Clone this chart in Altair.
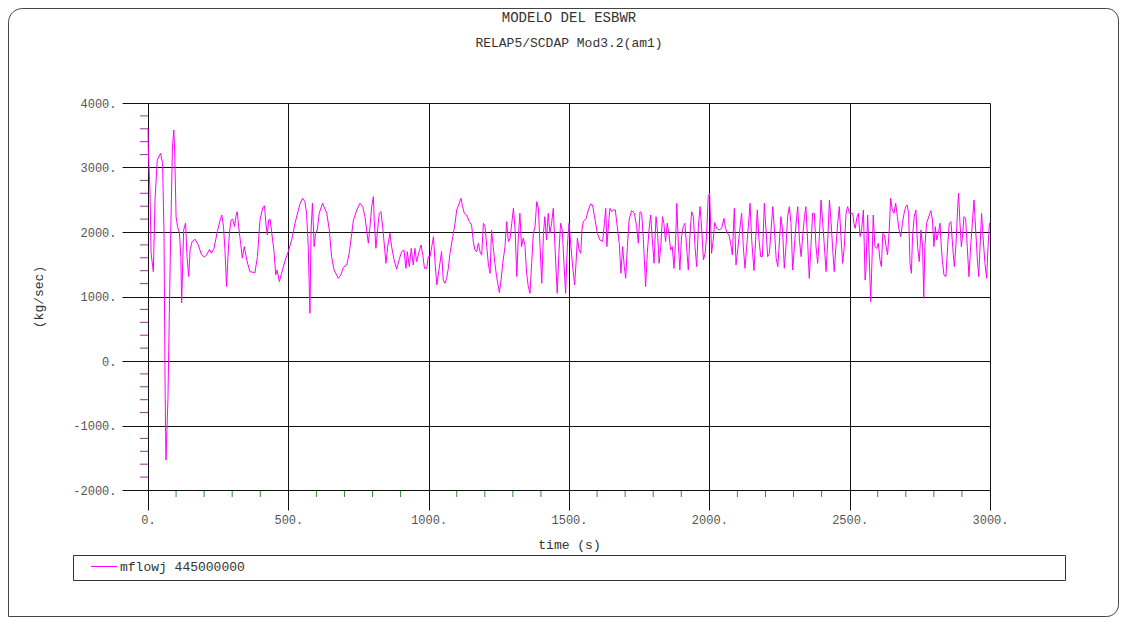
import altair as alt
import pandas as pd

# ---- series: mflowj 445000000 (time in s, flow in kg/sec) ----
t1 = [0, 1, 7, 11, 19, 25, 33, 45, 52, 57,
      61, 64, 71, 76, 81, 87, 92, 95, 100, 105,
      112, 117, 120, 124, 127, 134, 139, 145, 150, 157,
      168, 179, 191, 201, 209, 219, 226, 235, 247, 257,
      263, 269, 274, 280, 285, 290, 296, 302, 308, 314,
      318, 323, 330, 336, 343, 352, 363, 381, 390, 399,
      409, 415, 420, 425, 430, 435, 441, 449, 455, 460,
      468, 476, 488, 500, 512, 524, 542]
v1 = [3600, 3300, 2650, 1675, 1385, 2497, 3116, 3220, 3060, 1985,
      -450, -1535, -600, 745, 2000, 3300, 3580, 3270, 2240, 2085,
      1985, 1620, 900, 1565, 2030, 2140, 1620, 1310, 1725, 1850,
      1887, 1800, 1645, 1610, 1645, 1732, 1670, 1745, 2005, 2185,
      2263, 2085, 1730, 1155, 1620, 1985, 2185, 2200, 2085, 2263,
      2315, 2085, 1825, 1595, 1775, 1565, 1385, 1370, 1620, 2185,
      2383, 2405, 2140, 1955, 2185, 2200, 1985, 1700, 1335, 1410,
      1230, 1360, 1550, 1700, 1880, 2140, 2445]

t2 = [551, 559, 565, 571, 577, 581, 586, 592, 597, 603,
      610, 622, 637, 646, 654, 663, 678, 687, 696, 708,
      717, 726, 732, 744, 755, 765, 773, 779, 785, 791,
      797, 803, 806, 812, 818, 824, 830, 836, 842, 848,
      854, 862, 868, 877, 886, 896, 904, 912, 919, 924,
      931, 938, 945, 951, 957, 966, 973, 979, 985, 993,
      999]
v2 = [2522, 2471, 2290, 1773, 740, 2031, 2445, 1773, 1980, 2031,
      2290, 2445, 2290, 2031, 1618, 1411, 1282, 1334, 1453, 1489,
      1670, 1980, 2186, 2342, 2445, 2393, 2238, 2031, 1825, 2083,
      2393, 2548, 2186, 1747, 2031, 2290, 2316, 2083, 1799, 1515,
      1773, 1980, 1773, 1567, 1422, 1592, 1695, 1721, 1437, 1695,
      1463, 1747, 1489, 1747, 1541, 1695, 1799, 1644, 1437, 1437,
      1618]

t3 = [1005, 1011, 1017, 1023, 1029, 1034, 1040, 1046, 1052, 1058,
      1064, 1070, 1076, 1086, 1094, 1100, 1109, 1115, 1121, 1127,
      1135, 1145, 1153, 1159, 1165, 1171, 1177, 1183, 1189, 1195,
      1201, 1207, 1213, 1219, 1224, 1230, 1236, 1242, 1252, 1258,
      1264, 1272, 1278, 1284, 1290, 1296, 1302, 1308, 1314, 1319,
      1325, 1331, 1337, 1343, 1349, 1355, 1361, 1367, 1373, 1379,
      1385, 1391, 1397, 1403, 1409, 1414, 1420, 1426, 1432, 1438,
      1444, 1450, 1458, 1464, 1470, 1476, 1482, 1488, 1494, 1500]
v3 = [1618, 1773, 1928, 1515, 1179, 1334, 1515, 1695, 1257, 1205,
      1282, 1437, 1670, 1928, 2135, 2342, 2445, 2522, 2393, 2290,
      2264, 2161, 2109, 1851, 1721, 1695, 1825, 1695, 1644, 2135,
      2083, 1773, 1489, 1360, 2031, 1773, 1515, 1308, 1060, 1257,
      1515, 1773, 2161, 1851, 1903, 2135, 2367, 2031, 1308, 1877,
      2290, 1773, 1903, 1799, 1360, 1153, 1050, 1515, 1980, 2083,
      2471, 2367, 1773, 1205, 1980, 2238, 1877, 2290, 1980, 2135,
      2367, 1773, 1050, 1670, 2135, 2031, 1515, 1050, 1773, 2135]

t4 = [1513, 1520, 1525, 1530, 1536, 1542, 1546, 1551, 1561, 1569,
      1577, 1584, 1593, 1601, 1610, 1620, 1626, 1631, 1635, 1641,
      1646, 1652, 1658, 1665, 1672, 1679, 1685, 1691, 1697, 1702,
      1708, 1714, 1723, 1733, 1741, 1747, 1753, 1759, 1765, 1773,
      1779, 1785, 1791, 1797, 1803, 1810, 1815, 1821, 1827, 1833,
      1838, 1844, 1850, 1856, 1862, 1868, 1874, 1880, 1884, 1890,
      1895, 1901, 1907, 1913, 1919, 1925, 1931, 1937, 1943, 1949,
      1955, 1961, 1967, 1973, 1979, 1985, 1990, 1996, 2001]
v4 = [1463, 1179, 1515, 1903, 1721, 1670, 2031, 2161, 2212, 2342,
      2435, 2419, 2186, 1980, 1877, 1851, 2135, 2367, 1773, 2135,
      2367, 2316, 2342, 2342, 2083, 1825, 1360, 1773, 1463, 1282,
      1773, 2186, 2331, 2290, 2083, 1825, 2316, 2290, 1877, 1153,
      1670, 2031, 2264, 1877, 1515, 2238, 2031, 1515, 1773, 2238,
      2135, 1851, 2135, 1980, 1721, 1773, 1437, 1877, 2445, 1773,
      1411, 1928, 2083, 2135, 1773, 1411, 1954, 2316, 2238, 1773,
      1463, 2083, 2393, 2031, 1567, 1670, 1928, 2548, 2600]

t5 = [2008, 2014, 2019, 2026, 2036, 2044, 2052, 2058, 2064, 2070,
      2076, 2082, 2089, 2095, 2103, 2109, 2115, 2121, 2127, 2133,
      2139, 2145, 2151, 2159, 2165, 2171, 2177, 2183, 2189, 2196,
      2202, 2208, 2214, 2220, 2226, 2232, 2238, 2244, 2249, 2255,
      2261, 2267, 2273, 2279, 2285, 2291, 2297, 2303, 2309, 2315,
      2321, 2327, 2333, 2339, 2344, 2350, 2356, 2362, 2368, 2374,
      2380, 2386, 2392, 2398, 2404, 2410, 2416, 2422, 2428, 2434,
      2439, 2445, 2451, 2457, 2463, 2469, 2475, 2481, 2487, 2493,
      2499]
v5 = [1670, 1877, 2145, 2057, 2031, 2057, 2212, 2057, 1980, 1954,
      1825, 1644, 2367, 1489, 1799, 2057, 2290, 1773, 1437, 1773,
      2083, 2445, 1877, 1401, 1877, 2342, 1877, 1618, 1618, 2445,
      2031, 1618, 1670, 2031, 2393, 2031, 1592, 1463, 1799, 2238,
      2031, 1437, 1773, 2238, 2393, 2135, 1411, 1773, 2135, 2393,
      1877, 1618, 1954, 2238, 2393, 1877, 1282, 1773, 2290, 2290,
      1773, 1515, 1928, 2497, 2135, 1773, 1386, 1877, 2497, 2135,
      1773, 1386, 1773, 2109, 2393, 1928, 1515, 1773, 2290, 2393,
      2290]

t6 = [2511, 2515, 2520, 2525, 2531, 2537, 2543, 2549, 2555, 2558,
      2564, 2570, 2575, 2580, 2584, 2590, 2596, 2602, 2608, 2613,
      2618, 2624, 2630, 2635, 2641, 2646, 2652, 2658, 2664, 2670,
      2676, 2682, 2688, 2694, 2700, 2705, 2710, 2715, 2720, 2724,
      2730, 2736, 2742, 2748, 2754, 2760, 2764, 2768, 2774, 2780,
      2789, 2795, 2800, 2805, 2810, 2816, 2822, 2825, 2830, 2836,
      2843, 2849, 2855, 2861, 2867, 2873, 2879, 2885, 2888, 2893,
      2898, 2903, 2907, 2913, 2919, 2925, 2931, 2937, 2943, 2949,
      2955, 2960, 2964, 2970, 2976, 2982, 2988, 2993, 2998, 3000]
v6 = [2290, 2135, 2057, 2212, 2290, 1928, 2057, 2342, 1257, 1411,
      2264, 1567, 921, 1618, 2264, 1773, 1747, 1825, 1567, 1463,
      1980, 1954, 1773, 1644, 2031, 2522, 2342, 2290, 2445, 2238,
      2031, 1928, 2135, 2290, 2393, 2419, 2290, 1515, 1360, 1928,
      2238, 2342, 1773, 1541, 2031, 1773, 972, 1773, 2135, 2212,
      2331, 2186, 1773, 2083, 1877, 1980, 2135, 1877, 1567, 1334,
      1308, 1773, 2135, 2161, 1773, 1463, 1825, 2393, 2600, 2135,
      1773, 1980, 2238, 2212, 1773, 1308, 1773, 2135, 2497, 2031,
      1567, 1308, 1721, 2290, 1877, 1515, 1282, 1773, 2135, 2100]

series_name = "mflowj 445000000"
title_main = "MODELO DEL ESBWR"
title_sub = "RELAP5/SCDAP Mod3.2(am1)"
x_title = "time (s)"
y_title = "(kg/sec)"
x_major = [0, 500, 1000, 1500, 2000, 2500, 3000]
y_major = [-2000, -1000, 0, 1000, 2000, 3000, 4000]
x_minor = [t for t in range(100, 3000, 100) if t % 500 != 0]
y_minor = [v for v in range(-1800, 4000, 200) if v % 1000 != 0]

times = t1 + t2 + t3 + t4 + t5 + t6
flows = v1 + v2 + v3 + v4 + v5 + v6
df = pd.DataFrame({"t": times, "v": flows})

FONT = "Liberation Mono"
W, H = 842, 387

xaxis = alt.Axis(values=x_major, labelExpr="datum.value + '.'", grid=True,
                 gridColor="#111", gridOpacity=1, gridWidth=1,
                 domainColor="#111", tickColor="#111", tickSize=20,
                 labelFont=FONT, labelFontSize=12, labelColor="#555",
                 labelPadding=4, labelFlush=False, labelOverlap=False,
                 title=x_title, titleFont=FONT, titleFontSize=13,
                 titleFontWeight="normal", titleColor="#333",
                 titleX=W / 2, titleY=54, titleBaseline="middle",
                 titleAlign="center")
yaxis = alt.Axis(values=y_major, labelExpr="datum.value + '.'", grid=True,
                 gridColor="#111", gridOpacity=1, gridWidth=1,
                 domainColor="#111", tickColor="#111", tickSize=26,
                 labelFont=FONT, labelFontSize=12, labelColor="#555",
                 labelPadding=6, labelOverlap=False, labelFlush=False,
                 title=y_title, titleFont=FONT, titleFontSize=13,
                 titleFontWeight="normal", titleColor="#333",
                 titleAngle=270, titleX=-110, titleY=H / 2,
                 titleBaseline="middle", titleAlign="center")

xenc = alt.X("t:Q", scale=alt.Scale(domain=[0, 3000], nice=False, zero=False), axis=xaxis)
yenc = alt.Y("v:Q", scale=alt.Scale(domain=[-2000, 4000], nice=False, zero=False), axis=yaxis)

one = pd.DataFrame({"k": [0]})

frame = alt.Chart(one).mark_rect(
    fillOpacity=0, stroke="#444", strokeWidth=1,
    cornerRadiusTopLeft=14, cornerRadiusTopRight=12,
    cornerRadiusBottomRight=12, cornerRadiusBottomLeft=0
).encode(x=alt.value(-139.5), x2=alt.value(970.5), y=alt.value(-94.5), y2=alt.value(513.5))

line = alt.Chart(df).mark_line(color="#ff00ff", strokeWidth=1).encode(x=xenc, y=yenc)

yminor = alt.Chart(pd.DataFrame({"v": y_minor})).mark_rule(color="#993399", strokeWidth=1).encode(
    y=yenc, x=alt.value(-8), x2=alt.value(0))
xminor = alt.Chart(pd.DataFrame({"t": x_minor})).mark_rule(color="#2f8f2f", strokeWidth=1).encode(
    x=xenc, y=alt.value(H + 1), y2=alt.value(H + 7))

titles = alt.Chart(pd.DataFrame({"label": [title_main]})).mark_text(
    font=FONT, fontSize=14, color="#333", baseline="middle", align="center"
).encode(text="label:N", x=alt.value(W / 2), y=alt.value(-85))
subtitle = alt.Chart(pd.DataFrame({"label": [title_sub]})).mark_text(
    font=FONT, fontSize=13, color="#333", baseline="middle", align="center"
).encode(text="label:N", x=alt.value(W / 2), y=alt.value(-60))

legend_box = alt.Chart(one).mark_rect(fillOpacity=0, stroke="#333", strokeWidth=1).encode(
    x=alt.value(-74.5), x2=alt.value(917.5), y=alt.value(452.5), y2=alt.value(477.5))
legend_line = alt.Chart(one).mark_rule(color="#ff00ff", strokeWidth=1).encode(
    x=alt.value(-57), x2=alt.value(-31), y=alt.value(463.5))
legend_text = alt.Chart(pd.DataFrame({"label": [series_name]})).mark_text(
    font=FONT, fontSize=13, color="#333", baseline="middle", align="left"
).encode(text="label:N", x=alt.value(-28), y=alt.value(464))

chart = alt.layer(frame, yminor, xminor, line, titles, subtitle,
                  legend_box, legend_line, legend_text).properties(
    width=W, height=H,
    padding={"left": 140, "top": 95, "right": 129, "bottom": 127},
    autosize=alt.AutoSizeParams(type="none"),
    background="white",
).configure_view(strokeWidth=0)

chart.save("out.html", embed_options={"renderer": "svg", "actions": False})
